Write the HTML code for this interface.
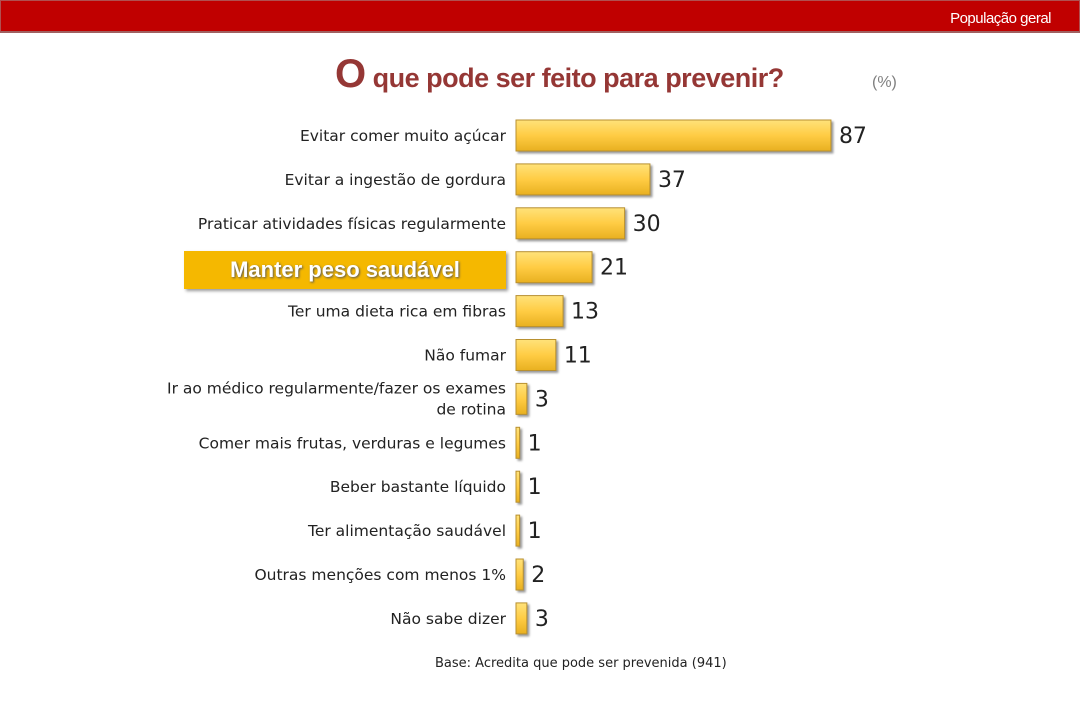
<!DOCTYPE html>
<html><head><meta charset="utf-8"><style>
body{margin:0;width:1080px;height:720px;background:#fff;overflow:hidden;font-family:"DejaVu Sans","Liberation Sans",sans-serif;position:relative}
.top{position:absolute;left:0;top:0;width:1078px;height:30px;background:#c00000;border:1px solid #b05050;border-bottom:2px solid #a06060}
.top span{position:absolute;right:28px;top:9px;color:#fff;font:15px "Liberation Sans",sans-serif;letter-spacing:-0.5px}
.title{position:absolute;left:335px;top:52px;color:#953735;font:bold 27px "Liberation Sans",sans-serif;letter-spacing:-0.5px}
.title b{font-size:40px}
.pct{position:absolute;left:872px;top:74px;color:#7f7f7f;font:16px "Liberation Sans",sans-serif}
.hl{position:absolute;left:184px;top:251px;width:322px;height:38px;background:#f5b800;box-shadow:2px 2px 3px #999;color:#fff;font:bold 22px "Liberation Sans",sans-serif;text-align:center;line-height:38px;text-shadow:1px 1px 2px #555}
.base{position:absolute;left:435px;top:656px;font-size:13px;color:#222}
</style></head><body>
<div class="top"><span>População geral</span></div>
<div class="title"><b>O</b> que pode ser feito para prevenir?</div>
<div class="pct">(%)</div>
<svg id="c" width="1080" height="720" style="position:absolute;left:0;top:0">
<defs><linearGradient id="g" x1="0" y1="0" x2="0" y2="1"><stop offset="0" stop-color="#ffe27a"/><stop offset="0.5" stop-color="#ffcc44"/><stop offset="1" stop-color="#e8b020"/></linearGradient></defs>
</svg>
<div class="hl">Manter peso saudável</div>
<div class="base">Base: Acredita que pode ser prevenida (941)</div>
<script>
const categories=["Evitar comer muito açúcar","Evitar a ingestão de gordura","Praticar atividades físicas regularmente","Manter peso saudável","Ter uma dieta rica em fibras","Não fumar","Ir ao médico regularmente/fazer os exames|de rotina","Comer mais frutas, verduras e legumes","Beber bastante líquido","Ter alimentação saudável","Outras menções com menos 1%","Não sabe dizer"];
const values=[87,37,30,21,13,11,3,1,1,1,2,3];
const svg=document.getElementById('c');const NS='http://www.w3.org/2000/svg';
const x=v=>516+v*3.62;const y=i=>135+i*43.9;
values.forEach((v,i)=>{
const r=document.createElementNS(NS,'rect');


r.setAttribute('x',516);r.setAttribute('y',y(i)-15);r.setAttribute('width',Math.max(x(v)-516,3));r.setAttribute('height',31);
r.setAttribute('fill','url(#g)');r.setAttribute('stroke','#b89030');r.setAttribute('stroke-width','1');
r.setAttribute('style','filter:drop-shadow(2px 2px 1px #999)');svg.appendChild(r);
const t=document.createElementNS(NS,'text');


t.setAttribute('x',Math.max(x(v),519)+8);t.setAttribute('y',y(i)+8);t.setAttribute('font-size','22');t.setAttribute('fill','#222');
t.setAttribute('font-family','DejaVu Sans, sans-serif');t.textContent=v;svg.appendChild(t);
if(i===3)return;
const lines=categories[i].split('|');
lines.forEach((ln,k)=>{
const l=document.createElementNS(NS,'text');


l.setAttribute('x',506);l.setAttribute('y',y(i)+6+(lines.length>1?(k*21-11):0));l.setAttribute('text-anchor','end');
l.setAttribute('font-size','15.5');l.setAttribute('fill','#222');l.setAttribute('font-family','DejaVu Sans, sans-serif');
l.textContent=ln;svg.appendChild(l);});
});
</script>
</body></html>
